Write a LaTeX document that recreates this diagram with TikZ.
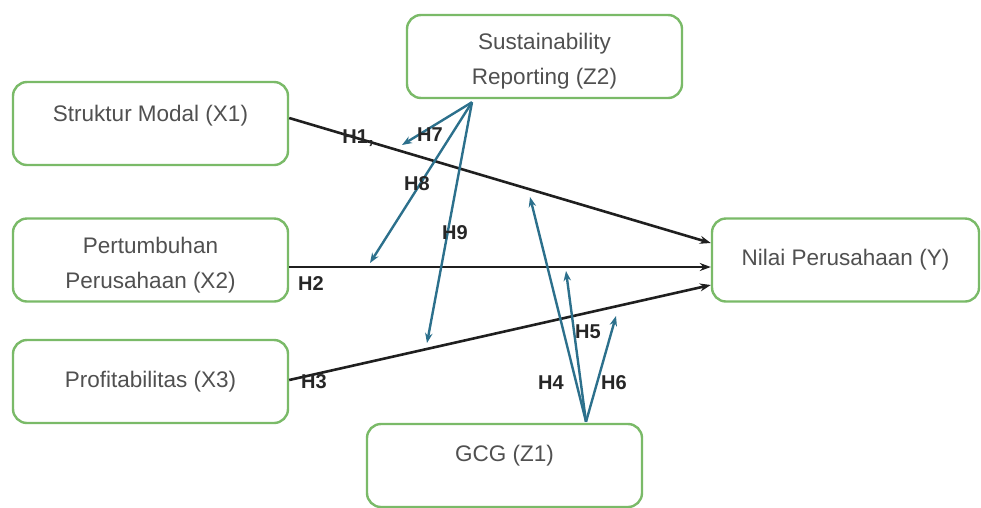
\documentclass[tikz,border=0pt]{standalone}
\usepackage{fontspec}
\setmainfont{Liberation Sans}
\usetikzlibrary{arrows.meta}
\definecolor{boxgreen}{RGB}{122,186,104}
\definecolor{lnblue}{RGB}{44,112,140}
\definecolor{txtgray}{RGB}{80,80,80}
\tikzset{
  boxtxt/.style={text=txtgray, font=\fontsize{22.5}{35}\selectfont, align=center},
  varbox/.style={boxtxt, draw=boxgreen, line width=2.4pt, rounded corners=14pt, fill=white, minimum width=275pt, minimum height=83pt},
  blk/.style={draw=black!88, line width=2.6pt, -{Stealth[length=11pt,width=8pt]}},
  blu/.style={draw=lnblue, line width=2.4pt, -{Stealth[length=10pt,width=7.5pt]}},
  hyp/.style={font=\bfseries\fontsize{20}{20}\selectfont, text=black!85, inner sep=1pt}
}
\begin{document}
\begin{tikzpicture}[x=1pt,y=-1pt]
\useasboundingbox (0,0) rectangle (981,507);
% variables
\node[varbox, label={[boxtxt, yshift=8pt]center:Struktur Modal (X1)}] (x1) at (150.5,123.5) {};
\node[varbox, label={[boxtxt, yshift=-5pt]center:Pertumbuhan\\Perusahaan (X2)}] (x2) at (150.5,260) {};
\node[varbox] (x3) at (150.5,381.5) {Profitabilitas (X3)};
\node[varbox, label={[boxtxt, yshift=-5pt]center:Sustainability\\Reporting (Z2)}] (z2) at (544.5,56.5) {};
\node[varbox, minimum width=267pt] (y) at (845.5,260) {Nilai Perusahaan (Y)};
\node[varbox, label={[boxtxt, yshift=10pt]center:GCG (Z1)}] (z1) at (504.5,465.5) {};
% moderator origins and arrow ends
\coordinate (zs) at ([xshift=-72.5pt,yshift=-3pt]z2.south);
\coordinate (zg) at ([xshift=81.5pt,yshift=1pt]z1.north);
\coordinate (e7) at (402,145); \coordinate (e8) at (370,263); \coordinate (e9) at (427,343);
\coordinate (e4) at (530,197); \coordinate (e5) at (566,271); \coordinate (e6) at (616,316);
% direct effects
\draw[blk] ([yshift=5.5pt]x1.east) -- ([yshift=17pt]y.west);
\draw[blk] ([yshift=-7pt]x2.east) -- ([yshift=-7pt]y.west);
\draw[blk] ([yshift=1.5pt]x3.east) -- ([yshift=-25pt]y.west);
% moderation
\foreach \e in {e7,e8,e9} \draw[blu] (zs) -- (\e);
\foreach \e in {e4,e5,e6} \draw[blu] (zg) -- (\e);
% hypothesis labels
\node[hyp] (h1) at (358,138) {H1,};
\node[hyp] (h7) at (430,135) {H7};
\node[hyp] (h8) at (417,184) {H8};
\node[hyp] (h9) at (455,233) {H9};
\node[hyp] (h2) at (311,284) {H2};
\node[hyp] (h3) at (314,382) {H3};
\node[hyp] (h4) at (551,383) {H4};
\node[hyp] (h5) at (588,332) {H5};
\node[hyp] (h6) at (614,383) {H6};
\end{tikzpicture}
\end{document}
